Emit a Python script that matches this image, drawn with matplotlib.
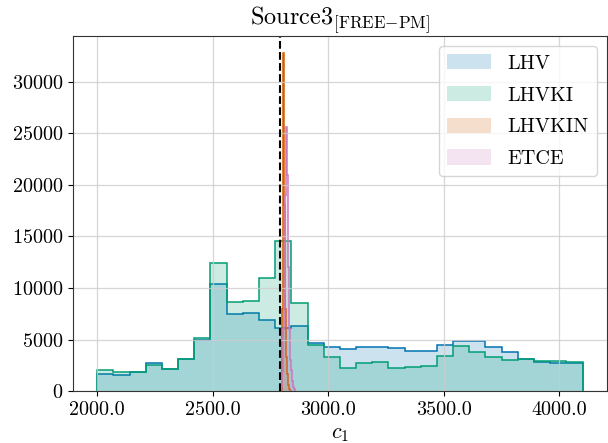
import numpy as np
import matplotlib
matplotlib.use("Agg")
import matplotlib.pyplot as plt
from matplotlib.ticker import FormatStrFormatter

plt.rcParams['font.family'] = 'serif'
plt.rcParams['font.serif'] = ['cmr10']
plt.rcParams['mathtext.fontset'] = 'cm'
plt.rcParams['axes.formatter.use_mathtext'] = True

# wide posteriors: 30 bins of width 70 between 2000 and 4100
wide_edges = np.linspace(2000, 4100, 31)
lhv_counts = [1710, 1520, 1870, 2740, 2130, 3100, 4930, 10350, 7480, 7560,
              6930, 6130, 6310, 4630, 4240, 4050, 4240, 4240, 4140, 3920,
              3850, 4430, 4850, 4880, 4240, 3820, 3140, 2820, 2750, 2750]
lhvki_counts = [2030, 1810, 1900, 2520, 2190, 3160, 5190, 12450, 8680, 8770,
                11000, 14550, 8580, 4480, 3290, 2200, 2690, 2850, 2200, 2300,
                2460, 3400, 4340, 3760, 3270, 3040, 3140, 2910, 2940, 2820]

# narrow posteriors
lhvkin_edges = np.linspace(2796, 2842, 31)
lhvkin_counts = [150, 600, 2500, 8000, 17000, 25000, 32800, 29300, 24000, 18000,
                 14000, 10500, 8000, 6000, 4500, 3300, 2400, 1700, 1200, 850,
                 600, 400, 280, 180, 120, 80, 50, 30, 15, 8]
etce_edges = np.linspace(2792, 2862, 31)
etce_counts = [50, 150, 400, 900, 1800, 3500, 6000, 9500, 14000, 19000,
               23500, 25600, 24500, 21000, 16500, 12000, 8500, 6000, 4200, 3000,
               2100, 1500, 1000, 700, 450, 300, 180, 100, 50, 20]

true_value = 2793

series = [
    ("LHV", wide_edges, lhv_counts, "#0173b2"),
    ("LHVKI", wide_edges, lhvki_counts, "#029e73"),
    ("LHVKIN", lhvkin_edges, lhvkin_counts, "#d55e00"),
    ("ETCE", etce_edges, etce_counts, "#cc78bc"),
]

fig = plt.figure(figsize=(6.08, 4.43), dpi=100)
ax = fig.add_axes([0.120, 0.117, 0.878, 0.802])

for name, edges, counts, color in series:
    ax.stairs(counts, edges, baseline=0, fill=True, color=color, alpha=0.2,
              label=name, linewidth=0)
    ax.stairs(counts, edges, baseline=0, fill=False, color=color, linewidth=1.1)

ax.axvline(true_value, color='black', linestyle='--', linewidth=1.5)

ax.set_title(r"Source3$_{\mathrm{[FREE{-}PM]}}$", fontsize=17.5)
ax.set_xlabel(r"$c_1$", fontsize=16)
ax.xaxis.set_major_formatter(FormatStrFormatter('%.1f'))
ax.set_xticks([2000, 2500, 3000, 3500, 4000])
ax.set_yticks(np.arange(0, 30001, 5000))
ax.tick_params(labelsize=14.5)
for sp in ax.spines.values():
    sp.set_color('#333333')
ax.grid(True, color='#cccccc', linewidth=0.9, alpha=0.8)
ax.legend(loc='upper right', fontsize=14.5, framealpha=0.8,
          labelspacing=0.65, handlelength=2.2, handleheight=0.8)

fig.savefig('out.png', dpi=100)
